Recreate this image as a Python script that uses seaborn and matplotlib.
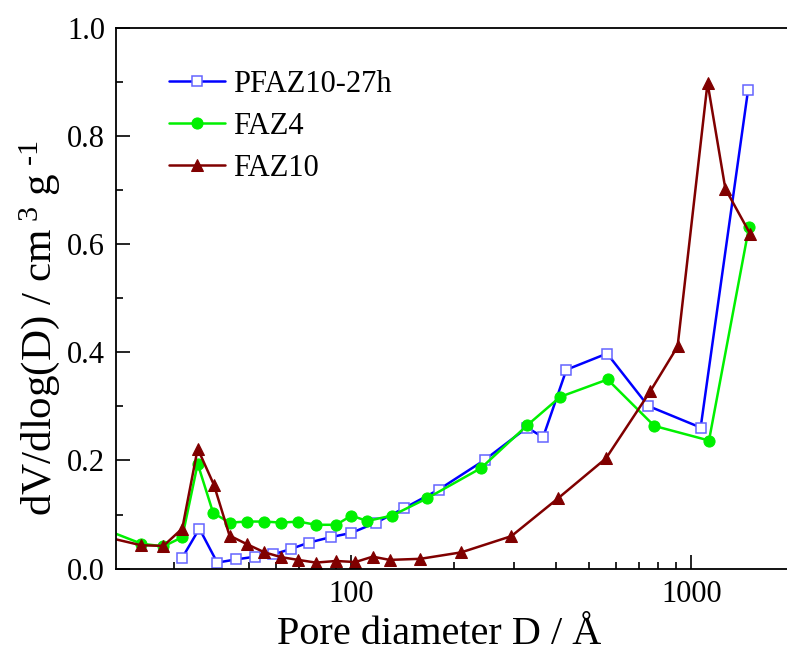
import numpy as np
import pandas as pd
import matplotlib
matplotlib.use("Agg")
import matplotlib.pyplot as plt
import matplotlib.ticker as mticker
import seaborn as sns

# pore size distribution
pfaz_x = [31.8, 35.7, 40.3, 45.9, 52.2, 58.8, 66.2, 74.9, 86.8, 100, 118.2, 143.2,
          180.6, 246.6, 328.7, 366.3, 429, 565, 746, 1065, 1468]
pfaz_y = [0.020, 0.074, 0.011, 0.017, 0.022, 0.026, 0.036, 0.048, 0.058, 0.066, 0.085, 0.112,
          0.146, 0.201, 0.261, 0.243, 0.368, 0.398, 0.301, 0.261, 0.885]

faz4_x = [18.2, 24.1, 28.0, 31.8, 35.3, 39.2, 43.8, 49.3, 55.5, 62.2, 69.8, 78.6,
          90.2, 100, 111.2, 131.7, 167.0, 240.7, 328.7, 411.9, 567, 778, 1127, 1478]
faz4_y = [0.076, 0.046, 0.041, 0.058, 0.194, 0.103, 0.085, 0.087, 0.087, 0.085, 0.087, 0.081,
          0.081, 0.098, 0.088, 0.098, 0.130, 0.186, 0.265, 0.318, 0.350, 0.264, 0.237, 0.632]

faz10_x = [18.2, 24.1, 28.0, 31.8, 35.3, 39.4, 43.8, 49.3, 55.5, 62.2, 69.8, 78.6, 90.2,
           102.7, 115.5, 129.6, 159.5, 210.6, 295.6, 405.5, 561, 757, 911, 1116, 1259, 1491]
faz10_y = [0.061, 0.043, 0.042, 0.074, 0.222, 0.155, 0.061, 0.045, 0.030, 0.021, 0.016, 0.011,
           0.014, 0.012, 0.022, 0.016, 0.018, 0.030, 0.060, 0.130, 0.204, 0.328, 0.411, 0.899,
           0.703, 0.619]

sns.set_style("ticks")
plt.rcParams['font.family'] = ['Liberation Serif', 'DejaVu Serif']
plt.rcParams['mathtext.fontset'] = 'custom'
plt.rcParams['mathtext.rm'] = 'Liberation Serif'
plt.rcParams['mathtext.it'] = 'Liberation Serif:italic'
for k in ['text.color', 'axes.labelcolor', 'xtick.color', 'ytick.color', 'axes.edgecolor']:
    plt.rcParams[k] = 'black'

fig = plt.figure(figsize=(7.87, 6.55), dpi=100)
ax = fig.add_axes([0.1474, 0.132, 0.857, 0.8248])

sns.lineplot(x=pfaz_x, y=pfaz_y, ax=ax, color='#0000ff', lw=1.8, marker='s', ms=6.5,
             mfc='white', mec='#6464ff', mew=1.1, label='PFAZ10-27h')
sns.lineplot(x=faz4_x, y=faz4_y, ax=ax, color='#00f000', lw=1.8, marker='o', ms=8,
             mfc='#00f000', mec='#00f000', label='FAZ4')
sns.lineplot(x=faz10_x, y=faz10_y, ax=ax, color='#800000', lw=1.8, marker='^', ms=8.5,
             mfc='#800000', mec='#800000', label='FAZ10')

ax.set_xscale('log')
ax.set_xlim(20.3, 1957)
ax.set_ylim(0, 1.0)
ax.yaxis.set_major_locator(mticker.MultipleLocator(0.2))
ax.yaxis.set_minor_locator(mticker.MultipleLocator(0.1))
ax.yaxis.set_major_formatter(mticker.FormatStrFormatter('%.1f'))
ax.xaxis.set_major_formatter(mticker.FuncFormatter(lambda v, p: '%d' % v))
ax.xaxis.set_minor_formatter(mticker.NullFormatter())

ax.tick_params(which='both', direction='in', labelsize=22, width=1.2, top=False, right=False)
ax.tick_params(which='major', length=10, pad=8)
ax.tick_params(which='minor', length=5)
for s in ax.spines.values():
    s.set_linewidth(1.3)
ax.spines['right'].set_visible(False)

ax.set_xlabel('Pore diameter D / Å', fontsize=29)
ax.xaxis.set_label_coords(0.479, -0.088)
ax.set_ylabel(r'dV/dlog(D) / cm$^{\ 3}$ g$^{\ \text{-}1}$', fontsize=31)
ax.yaxis.set_label_coords(-0.08, 0.445)

ax.legend(loc='upper left', bbox_to_anchor=(0.2147, 0.893), bbox_transform=fig.transFigure,
          frameon=False, fontsize=22, handlelength=1.85, handletextpad=0.25,
          labelspacing=0.42, borderpad=0, borderaxespad=0)

fig.savefig('out.png', dpi=100)
